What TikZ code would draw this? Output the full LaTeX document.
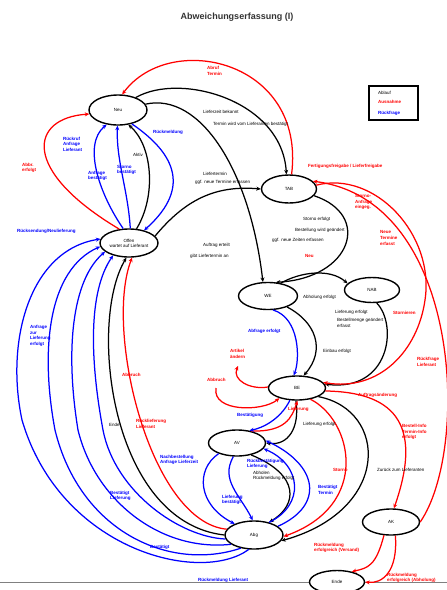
\documentclass[tikz,border=0pt]{standalone}
\usepackage{fontspec}
\setmainfont{Liberation Sans}
\usetikzlibrary{shapes.geometric,arrows.meta}
\definecolor{exred}{RGB}{255,0,0}
\definecolor{rqblue}{RGB}{0,0,255}
\begin{document}
\begin{tikzpicture}[x=1pt,y=-1pt,
  state/.style={ellipse,draw,line width=1.4pt,fill=white,inner sep=0pt,
    minimum width=57pt,minimum height=27pt,align=center,
    font=\fontsize{4.5}{5.2}\selectfont},
  flow/.style={draw=black,line width=1.25pt,-{Stealth[length=4.5pt,width=4pt]}},
  flowx/.style={draw=exred,line width=1.25pt,-{Stealth[length=4.5pt,width=4pt]}},
  flowq/.style={draw=rqblue,line width=1.25pt,-{Stealth[length=4.5pt,width=4pt]}},
  lb/.style={inner sep=0pt,align=left,font=\fontsize{4.5}{5.6}\selectfont},
  lbx/.style={lb,text=exred,font=\fontsize{4.5}{5.6}\selectfont\bfseries},
  lbq/.style={lb,text=rqblue,font=\fontsize{4.5}{5.6}\selectfont\bfseries}]
\useasboundingbox (0,0) rectangle (447,590);

% title
\node[font=\fontsize{9}{10}\selectfont\bfseries,text=black!80] (title) at (237,17) {Abweichungserfassung (I)};

% legend
\node[draw,line width=1.5pt,minimum width=49pt,minimum height=34pt,inner sep=0pt] (legend) at (393.5,103) {};
\node[lb,anchor=west] (legA) at (378,93) {Ablauf};
\node[lbx,anchor=west] (legB) at (378,102) {Ausnahme};
\node[lbq,anchor=west] (legC) at (378,113) {Rückfrage};

% base line
\draw[gray,line width=0.9pt] (0,582) -- (447,582);

% states
\node[state,minimum width=58pt,minimum height=30pt] (n1) at (118,110) {Neu};
\node[state,minimum width=58pt,minimum height=28pt] (n2) at (129,243) {Offen\\wartet auf Lieferant};
\node[state,minimum width=55pt,minimum height=28pt] (n3) at (289,189) {TAB};
\node[state,minimum width=59pt,minimum height=27pt] (n4) at (268,296) {WE};
\node[state,minimum width=55pt,minimum height=25pt] (n5) at (372,290) {NAB};
\node[state,minimum width=57pt,minimum height=24pt] (n6) at (297,388) {BE};
\node[state,minimum width=57pt,minimum height=26pt] (n7) at (237,443) {AV};
\node[state,minimum width=58pt,minimum height=28pt] (n8) at (254,535) {Abg};
\node[state,minimum width=57pt,minimum height=26pt] (n9) at (391,522) {AK};
\node[state,minimum width=55pt,minimum height=23pt] (n10) at (337,582) {Ende};

% ---- regular flow (black)
\draw[flow] (n1.35) .. controls (180,72) and (282,100) .. (n3.100);
\draw[flow] (n1.12) .. controls (200,92) and (250,170) .. (n4.110);
\draw[flow] (n2.62) .. controls (157,195) and (152,145) .. (n1.-55);
\draw[flow] (n2.15) .. controls (185,200) and (215,185) .. (n3.west);
\draw[flow] (n3.-15) .. controls (372,215) and (352,278) .. (n4.60);
\draw[flow] (n4.45) .. controls (300,272) and (330,268) .. (n5.165);
\draw[flow] (n4.-30) .. controls (316,322) and (326,350) .. (n6.62);
\draw[flow] (n5.-70) .. controls (398,325) and (390,392) .. (n6.8);
\draw[flow] (n6.-95) .. controls (300,428) and (288,446) .. (n7.east);
\draw[flow] (n7.-40) .. controls (300,475) and (298,505) .. (n8.40);
\draw[flow] (n6.-22) .. controls (388,410) and (392,510) .. (n8.-12);
\draw[flow] (n8.west) .. controls (110,522) and (88,322) .. (n2.-100);

% ---- exceptions (red)
\draw[flowx] (n3.80) .. controls (306,60) and (170,30) .. (n1.75);
\draw[flowx] (n2.125) .. controls (20,170) and (30,118) .. (n1.188);
\draw[flowx] (n3.8) .. controls (375,170) and (435,235) .. (425,300)
  .. controls (418,350) and (380,392) .. (n6.12);
\draw[flowx] (n9.east) .. controls (470,450) and (462,200) .. (n3.18);
\draw[flowx] (n8.168) .. controls (150,522) and (104,330) .. (n2.-78);
\coordinate (artc) at (238,366);
\draw[flowx] (n6.178) .. controls (250,390) and (232,380) .. (artc);
\coordinate (abbc) at (216,388);
\draw[flowx] (abbc) .. controls (212,412) and (262,412) .. (n6.-150);
\draw[flowx] (n7.40) .. controls (285,432) and (292,418) .. (n6.-88);
\draw[flowx] (n6.-40) .. controls (352,420) and (372,505) .. (n8.-3);
\draw[flowx] (n6.-6) .. controls (390,392) and (425,420) .. (n9.78);
\draw[flowx] (n9.-118) .. controls (376,566) and (368,568) .. (n10.35);
\draw[flowx] (n9.-72) .. controls (398,572) and (382,584) .. (n10.east);

% ---- queries (blue)
\draw[flowq] (n2.112) .. controls (100,195) and (82,145) .. (n1.-128);
\draw[flowq] (n2.85) .. controls (128,190) and (116,160) .. (n1.-92);
\draw[flowq] (n1.-45) .. controls (170,150) and (195,185) .. (n2.40);
\draw[flowq] (n8.-110) .. controls (200,585) and (60,550) .. (22,420)
  .. controls (5,340) and (30,250) .. (n2.172);
\draw[flowq] (n8.-135) .. controls (170,572) and (80,532) .. (55,430)
  .. controls (40,350) and (48,270) .. (n2.187);
\draw[flowq] (n8.-158) .. controls (160,552) and (95,500) .. (78,430)
  .. controls (65,350) and (72,280) .. (n2.200);
\draw[flowq] (n8.-172) .. controls (180,537) and (115,492) .. (103,430)
  .. controls (90,360) and (88,292) .. (n2.218);
\draw[flowq] (n7.-150) .. controls (195,470) and (198,505) .. (n8.150);
\draw[flowq] (n7.-105) .. controls (220,480) and (240,495) .. (n8.95);
\draw[flowq] (n8.40) .. controls (305,505) and (302,465) .. (n7.-12);
\draw[flowq] (n8.20) .. controls (325,505) and (318,465) .. (n7.5);
\draw[flowq] (n6.-120) .. controls (280,420) and (262,428) .. (n7.45);
\draw[flowq] (n4.-70) .. controls (300,318) and (300,360) .. (n6.105);

% ---- labels, black
\node[lb,anchor=west] (t1) at (203,112) {Lieferzeit bekannt};
\node[lb,anchor=west] (t2) at (213,124) {Termin wird vom Lieferanten bestätigt};
\node[lb,anchor=west] (t3) at (133,155) {Aktiv};
\node[lb,anchor=west] (t4) at (203,174) {Liefertermin};
\node[lb,anchor=west] (t5) at (195,182) {ggf. neue Termine erfassen};
\node[lb,anchor=west] (t6) at (203,245) {Auftrag erteilt};
\node[lb,anchor=west] (t7) at (190,256) {gibt Liefertermin an};
\node[lb,anchor=west] (t8) at (303,219) {Storno erfolgt};
\node[lb,anchor=west] (t9) at (295,230) {Bestellung wird geändert};
\node[lb,anchor=west] (t10) at (272,240) {ggf. neue Zeiten erfassen};
\node[lb,anchor=west] (t11) at (303,297) {Abholung erfolgt};
\node[lb,anchor=west] (t12) at (335,312) {Lieferung erfolgt};
\node[lb,anchor=west] (t13) at (337,323) {Bestellmenge geändert\\erfasst};
\node[lb,anchor=west] (t14) at (323,351) {Einbau erfolgt};
\node[lb,anchor=west] (t15) at (303,424) {Lieferung erfolgt};
\node[lb,anchor=west] (t16) at (253,476) {Abholen\\Rückmeldung erfolgt};
\node[lb,anchor=west] (t17) at (377,470) {Zurück zum Lieferanten};
\node[lb,anchor=west] (t18) at (109,425) {Ende};

% ---- labels, red
\node[lbx,anchor=west] (r1) at (207,71) {Abruf\\Termin};
\node[lbx,anchor=west] (r2) at (22,168) {Abbr.\\erfolgt};
\node[lbx,anchor=west] (r3) at (308,166) {Fertigungsfreigabe / Lieferfreigabe};
\node[lbx,anchor=west] (r4) at (355,202) {Storno-\\Anfrage\\eingeg.};
\node[lbx,anchor=west] (r5) at (380,238) {Neue\\Termine\\erfasst};
\node[lbx,anchor=west] (r6) at (305,256) {Neu};
\node[lbx,anchor=west] (r7) at (393,313) {Stornieren};
\node[lbx,anchor=west] (r8) at (417,362) {Rückfrage\\Lieferant};
\node[lbx,anchor=west] (r9) at (230,354) {Artikel\\ändern};
\node[lbx,anchor=west] (r10) at (207,380) {Abbruch};
\node[lbx,anchor=west] (r11) at (122,375) {Abbruch};
\node[lbx,anchor=west] (r12) at (136,424) {Rücklieferung\\Lieferant};
\node[lbx,anchor=west] (r13) at (358,395) {Auftragsänderung};
\node[lbx,anchor=west] (r14) at (288,409) {Lieferung};
\node[lbx,anchor=west] (r15) at (402,432) {Bestell-Info\\Termin-Info\\erfolgt};
\node[lbx,anchor=west] (r16) at (333,470) {Storno};
\node[lbx,anchor=west] (r17) at (314,548) {Rückmeldung\\erfolgreich (Versand)};
\node[lbx,anchor=west] (r18) at (387,578) {Rückmeldung\\erfolgreich (Abholung)};

% ---- labels, blue
\node[lbq,anchor=west] (q1) at (153,132) {Rückmeldung};
\node[lbq,anchor=west] (q2) at (63,144) {Rückruf\\Anfrage\\Lieferant};
\node[lbq,anchor=west] (q3) at (88,176) {Anfrage\\bestätigt};
\node[lbq,anchor=west] (q4) at (117,170) {Storno\\bestätigt};
\node[lbq,anchor=west] (q5) at (17,231) {Rücksendung/Neulieferung};
\node[lbq,anchor=west] (q6) at (30,336) {Anfrage\\zur\\Lieferung\\erfolgt};
\node[lbq,anchor=west] (q7) at (248,331) {Abfrage erfolgt};
\node[lbq,anchor=west] (q8) at (237,415) {Bestätigung};
\node[lbq,anchor=west] (q9) at (160,460) {Nachbestellung\\Anfrage Lieferzeit};
\node[lbq,anchor=west] (q10) at (247,464) {Rückbestätigung\\Lieferung};
\node[lbq,anchor=west] (q11) at (222,500) {Lieferung\\bestätigt};
\node[lbq,anchor=west] (q12) at (318,490) {Bestätigt\\Termin};
\node[lbq,anchor=west] (q13) at (110,496) {Bestätigt\\Lieferung};
\node[lbq,anchor=west] (q14) at (150,547) {Bestätigt};
\node[lbq,anchor=west] (q15) at (198,580) {Rückmeldung Lieferant};
\end{tikzpicture}
\end{document}
